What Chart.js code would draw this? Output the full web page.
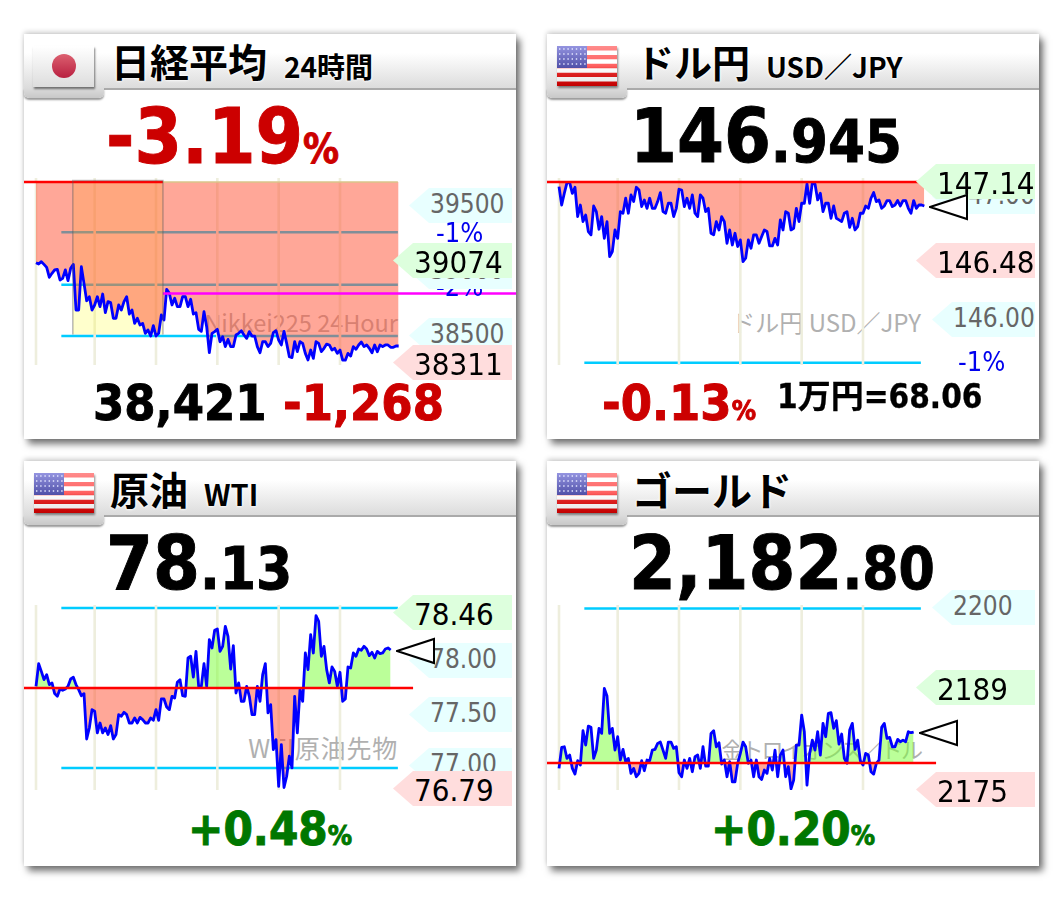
<!DOCTYPE html>
<html lang="ja">
<head>
<meta charset="UTF-8">
<title>日経平均 ドル円 原油 ゴールド</title>
<script src="https://cdn.jsdelivr.net/npm/chart.js@4"></script>
<style>
    html, body { margin: 0; padding: 0; background: #fff; }
    body { position: relative; width: 1053px; height: 901px; overflow: hidden; font-family: "Noto Sans CJK JP", sans-serif; }
    .panel { position: absolute; width: 492px; height: 405px; background: #fff; box-shadow: 4px 5px 7px rgba(0,0,0,.55), 0 -2px 5px rgba(0,0,0,.18); }
    .head { position: absolute; left: 0; top: 0; width: 100%; height: 54px; background: linear-gradient(#fff 35%, #dcdcdc); border-bottom: 2px solid #aaa; box-sizing: content-box; }
    .tab { position: absolute; left: 0; top: 54px; width: 80px; height: 10px; background: linear-gradient(#dcdcdc, #c8c8c8); border-radius: 0 0 5px 5px; box-shadow: 0 2px 2px rgba(0,0,0,.4); }
    .flagbox { position: absolute; left: 9px; top: 12px; width: 61px; height: 41px; background: linear-gradient(#fff, #ddd); box-shadow: 1px 2px 2px rgba(0,0,0,.5); }
    .sun { position: absolute; left: 19px; top: 8px; width: 24px; height: 24px; border-radius: 50%; background: linear-gradient(#dc6070, #b82040); }
    .flag { position: absolute; left: 10px; top: 12px; filter: drop-shadow(1px 2px 1px rgba(0,0,0,.45)); }
    .abs { position: absolute; white-space: nowrap; }
    .title { font-weight: 700; color: #000; text-shadow: 0 0 3px #fff, 0 0 3px #fff; line-height: 1; }
    .big { font-family: "DejaVu Sans Condensed", "Noto Sans CJK JP", sans-serif; font-weight: 700; line-height: 1; -webkit-text-stroke: .9px currentColor; }
    .red { color: #cc0000; }
    .green { color: #007700; }
    canvas { position: absolute; left: 0; }
    .mark { position: absolute; font-family: "Noto Sans CJK JP", sans-serif; font-size: 25px; line-height: 1; color: #b0b0b0; white-space: nowrap; }
    .tag { position: absolute; height: 35px; line-height: 38px; font-family: "DejaVu Sans Condensed", sans-serif; white-space: nowrap; clip-path: polygon(0 50%, 20px 0, 100% 0, 100% 100%, 20px 100%); }
    .tag.g { background: #ddffdd; color: #000; font-size: 31px; left: 369px; width: 119px; padding-left: 21px; box-sizing: border-box; }
    .tag.r { background: #ffdddd; color: #000; font-size: 31px; left: 369px; width: 119px; padding-left: 21px; box-sizing: border-box; }
    .tag.c { background: #e8ffff; color: #666; font-size: 26px; line-height: 32px; left: 385px; width: 103px; padding-left: 21px; box-sizing: border-box; }
    .pct { position: absolute; color: #0000ee; font-family: "DejaVu Sans Condensed", sans-serif; font-size: 27px; line-height: 1; }
    .tri { position: absolute; }
</style>
</head>
<body>

<svg width="0" height="0" style="position:absolute">
    <defs>
        <linearGradient id="stripeRed" x1="0" y1="0" x2="0" y2="1">
            <stop offset="0" stop-color="#ff8c8c"/>
            <stop offset=".5" stop-color="#ff6060"/>
            <stop offset=".65" stop-color="#e82828"/>
            <stop offset="1" stop-color="#d80000"/>
        </linearGradient>
        <linearGradient id="cantonBlue" x1="0" y1="0" x2="0" y2="1">
            <stop offset="0" stop-color="#9494e0"/>
            <stop offset="1" stop-color="#5050a8"/>
        </linearGradient>
        <linearGradient id="shade" x1="0" y1="0" x2="0" y2="1">
            <stop offset=".5" stop-color="#000" stop-opacity="0"/>
            <stop offset="1" stop-color="#000" stop-opacity=".1"/>
        </linearGradient>
        <mask id="redStripes">
            <rect width="60" height="40" fill="#000"/>
            <path d="M0 2.2H60M0 11.1H60M0 20H60M0 28.9H60M0 37.8H60" stroke="#fff" stroke-width="4.44"/>
        </mask>
        <symbol id="usflag" viewBox="0 0 60 40">
            <rect width="60" height="40" fill="#fff"/>
            <rect width="60" height="40" fill="url(#stripeRed)" mask="url(#redStripes)"/>
            <rect width="30" height="22" fill="url(#cantonBlue)"/>
            <path d="M2 3h27M2 8h27M2 13h27M2 18h27" stroke="#e4e6ff" stroke-width="1.4" stroke-dasharray="1.4 2.8"/>
            <rect width="60" height="40" fill="url(#shade)"/>
        </symbol>
    </defs>
</svg>

<!-- 日経平均 -->
<div class="panel" id="p1" style="left:24px;top:34px">
    <div class="head"></div><div class="tab"></div>
    <div class="flagbox"><div class="sun"></div></div>
    <div class="abs title" style="left:87px;top:7px;font-size:39px">日経平均</div>
    <div class="abs title" style="left:260px;top:18px;font-size:28px">24時間</div>
    <div class="abs big red" style="left:82px;top:65px;font-size:76px">-3.19<span style="font-size:40px">%</span></div>
    <div class="mark" style="right:118px;top:277px;font-size:23.5px">Nikkei225 24Hour</div>
    <canvas id="chartNikkei" style="top:144px"></canvas>
    <div class="tag c" style="top:154px">39500</div>
    <div class="pct" style="left:412px;top:185px">-1%</div>
    <div class="pct" style="left:412px;top:239px">-2%</div>
    <div class="tag c" style="top:220px">39000</div>
    <div class="tag g" style="top:209px">39074</div>
    <div class="tag c" style="top:284px">38500</div>
    <div class="tag r" style="top:311px">38311</div>
    <div class="abs big" style="left:69px;top:344px;font-size:50px">38,421</div>
    <div class="abs big red" style="left:259px;top:344px;font-size:50px">-1,268</div>
</div>

<!-- ドル円 -->
<div class="panel" id="p2" style="left:547px;top:34px">
    <div class="head"></div><div class="tab"></div>
    <svg class="flag" width="60" height="40"><use href="#usflag"/></svg>
    <div class="abs title" style="left:89px;top:8px;font-size:38px">ドル円</div>
    <div class="abs title" style="left:219px;top:18px;font-size:28px">USD／JPY</div>
    <div class="abs big" style="left:83px;top:65px;font-size:75px">146<span style="font-size:59px">.945</span></div>
    <div class="mark" style="right:118px;top:276px;font-size:24px">ドル円 USD／JPY</div>
    <canvas id="chartUsdJpy" style="top:144px"></canvas>
    <div class="tag c" style="top:145px">147.00</div>
    <div class="tag g" style="top:130px">147.14</div>
    <div class="tag r" style="top:209px">146.48</div>
    <div class="tag c" style="top:268px">146.00</div>
    <div class="pct" style="left:411px;top:314px">-1%</div>
    <div class="abs big red" style="left:55px;top:344px;font-size:50px">-0.13<span style="font-size:27px">%</span></div>
    <div class="abs big" style="left:230px;top:346px;font-size:33px;-webkit-text-stroke:.3px currentColor">1万円=68.06</div>
</div>

<!-- 原油 -->
<div class="panel" id="p3" style="left:24px;top:461px">
    <div class="head"></div><div class="tab"></div>
    <svg class="flag" width="60" height="40"><use href="#usflag"/></svg>
    <div class="abs title" style="left:86px;top:8px;font-size:39px">原油</div>
    <div class="abs title" style="left:180px;top:18px;font-size:29px">WTI</div>
    <div class="abs big" style="left:82px;top:65px;font-size:75px">78<span style="font-size:58px">.13</span></div>
    <div class="mark" style="right:118px;top:274px;letter-spacing:.8px">WTI原油先物</div>
    <canvas id="chartWti" style="top:144px"></canvas>
    <div class="tag g" style="top:134px">78.46</div>
    <div class="tag c" style="top:182px">78.00</div>
    <div class="tag c" style="top:236px">77.50</div>
    <div class="tag c" style="top:287px">77.00</div>
    <div class="tag r" style="top:310px">76.79</div>
    <div class="abs big green" style="left:164px;top:344px;font-size:47px">+0.48<span style="font-size:27px">%</span></div>
</div>

<!-- ゴールド -->
<div class="panel" id="p4" style="left:547px;top:461px">
    <div class="head"></div><div class="tab"></div>
    <svg class="flag" width="60" height="40"><use href="#usflag"/></svg>
    <div class="abs title" style="left:85px;top:8px;font-size:40px">ゴールド</div>
    <div class="abs big" style="left:82px;top:65px;font-size:75px">2,182<span style="font-size:58px">.80</span></div>
    <div class="mark" style="right:118px;top:276px;font-size:22px;letter-spacing:-2px">金トロイオンス／ドル</div>
    <canvas id="chartGold" style="top:144px"></canvas>
    <div class="tag c" style="top:129px">2200</div>
    <div class="tag g" style="top:209px">2189</div>
    <div class="tag r" style="top:311px">2175</div>
    <div class="abs big green" style="left:164px;top:344px;font-size:47px">+0.20<span style="font-size:27px">%</span></div>
</div>

<script>
// series, one value per step
const nikkeiValues = [39065,39055,39073,39052,39029,38952,38983,39009,39014,38931,38944,39009,38926,39021,39052,38699,38699,39034,38905,38771,38802,38699,38738,38802,38725,38823,38679,38764,38756,38635,38635,38738,38699,38764,38802,38668,38699,38596,38635,38583,38596,38519,38545,38498,38578,38498,38519,38661,38622,38859,38828,38738,38790,38725,38725,38802,38802,38725,38782,38668,38679,38550,38534,38686,38570,38369,38519,38532,38550,38454,38493,38416,38472,38416,38416,38506,38519,38539,38506,38480,38532,38498,38498,38416,38369,38454,38454,38416,38441,38524,38539,38467,38429,38534,38441,38338,38331,38454,38377,38454,38441,38364,38313,38390,38325,38454,38441,38377,38403,38436,38429,38390,38403,38364,38390,38311,38311,38364,38343,38416,38395,38429,38452,38416,38429,38403,38369,38429,38377,38429,38416,38429,38429,38411,38411,38421,38421];
const usdJpyValues = [147.102,146.953,147.048,147.135,147.135,147.048,147.097,146.859,146.953,146.818,146.872,146.737,146.710,146.945,146.899,146.756,146.859,146.682,146.818,146.533,146.574,146.750,146.682,146.899,146.886,147.008,146.886,147.035,146.981,147.097,147.075,146.940,146.994,146.926,147.008,146.926,146.926,146.981,147.054,146.899,146.886,146.967,146.967,146.859,146.926,147.081,147.075,146.940,147.008,146.926,147.035,146.886,146.859,147.035,147.008,146.899,146.926,146.723,146.710,146.818,146.750,146.859,146.818,146.642,146.750,146.628,146.723,146.615,146.669,146.493,146.520,146.669,146.601,146.710,146.710,146.642,146.696,146.750,146.737,146.620,146.620,146.682,146.628,146.832,146.750,146.899,146.886,146.750,146.764,146.926,146.818,146.967,146.967,147.124,146.967,147.135,147.124,146.994,147.048,146.899,146.967,146.967,146.845,146.945,146.845,146.832,146.818,146.886,146.899,146.772,146.845,146.750,146.777,146.886,146.886,146.945,146.926,147.008,147.054,146.981,146.994,146.926,146.945,146.989,146.989,146.940,146.953,146.989,146.945,146.989,146.989,146.926,146.886,146.989,146.926,146.953,146.953,146.945];
const wtiValues = [77.776,77.997,77.922,77.841,77.890,77.793,77.809,77.705,77.679,77.750,77.737,77.750,77.776,77.848,77.864,77.793,77.744,77.685,77.705,77.263,77.370,77.549,77.533,77.322,77.419,77.322,77.370,77.306,77.393,77.263,77.306,77.500,77.484,77.523,77.500,77.419,77.419,77.468,77.419,77.474,77.452,77.419,77.419,77.468,77.445,77.549,77.445,77.653,77.653,77.575,77.549,77.679,77.663,77.815,77.841,77.685,77.679,78.052,78.069,77.867,78.117,77.776,77.776,77.997,77.776,78.231,78.150,78.322,78.335,78.117,78.166,78.361,78.263,77.945,78.172,77.711,77.809,77.630,77.630,77.776,77.679,77.500,77.500,77.776,77.630,77.890,77.997,77.517,77.598,77.159,77.257,76.802,77.208,76.790,76.900,77.095,76.981,77.679,77.322,77.744,77.630,78.101,77.939,78.280,78.101,78.464,78.410,78.069,78.166,77.939,77.809,77.965,77.922,77.776,77.913,77.630,77.653,77.965,77.955,78.101,78.069,78.140,78.127,78.166,78.140,78.075,78.108,78.052,78.117,78.095,78.101,78.140,78.150,78.130];
const goldValues = [2177.68,2180.64,2180.73,2179.09,2179.56,2177.68,2176.88,2178.76,2178.15,2182.99,2180.97,2183.64,2183.46,2179.09,2180.26,2183.32,2182.61,2188.95,2187.87,2182.61,2183.32,2180.26,2182.14,2178.86,2180.36,2178.62,2179.09,2176.98,2177.68,2176.51,2176.98,2178.76,2177.35,2178.86,2178.76,2180.26,2180.36,2181.20,2181.39,2180.26,2179.09,2181.39,2181.39,2180.50,2180.73,2177.07,2176.51,2178.86,2177.68,2179.09,2177.21,2179.33,2179.56,2177.68,2180.73,2178.01,2178.01,2182.61,2182.99,2180.73,2181.30,2178.29,2178.86,2176.51,2178.62,2175.80,2175.80,2178.39,2179.79,2181.39,2180.73,2178.39,2178.86,2176.51,2178.86,2176.51,2176.13,2177.45,2176.98,2179.09,2177.45,2180.26,2176.51,2179.56,2180.26,2176.51,2177.92,2174.80,2176.04,2180.97,2180.97,2185.19,2182.85,2175.33,2179.79,2181.67,2180.26,2182.85,2179.56,2184.02,2182.14,2185.43,2185.52,2183.32,2184.40,2181.11,2182.52,2179.09,2178.39,2183.08,2184.02,2180.36,2181.67,2178.76,2178.15,2179.79,2179.56,2177.21,2176.88,2178.39,2178.86,2183.46,2184.02,2181.91,2182.05,2180.73,2180.73,2181.77,2181.44,2181.67,2181.44,2182.85,2182.71,2182.80];

// previous closes and percent lines
const nikkeiClose = 39689;
const nikkeiLevels = [39300, 38895, 38498];
const nikkeiNow = 38827;   // magenta line
const usdJpyClose = 147.14;
const usdJpyLevels = [145.67];
const wtiClose = 77.76;
const wtiLevels = [78.54, 76.98];
const goldClose = 2178.44;
const goldLevels = [2200.2];

// vertical rules, as step numbers
const timeTicks = [0, 22, 45, 68, 91, 114];

// shaded session on the Nikkei chart, as step numbers
const sessionStart = 13.8;
const sessionEnd = 47.6;
const lastStep = 135.7;

const XMIN = -4.5, XMAX = 180;
const CYAN = '#00ccff', RULE = '#eeeedd', BLUE = '#0000ff', RED = '#ff0000';
const UP = 'rgba(119,255,51,.5)', DOWN = 'rgba(255,80,50,.5)';

function hline(y, from, to, color, order, width) {
    return { data: [{x: from, y: y}, {x: to, y: y}], borderColor: color, borderWidth: width || 2.6, order: order, clip: false, fill: false };
}

function makeChart(id, h, yMin, yMax, series, close, levels, redEnd, extra) {
    const sets = [];
    timeTicks.forEach(t => sets.push({ data: [{x: t, y: yMin}, {x: t, y: yMax}], borderColor: RULE, borderWidth: 2.6, order: 6, fill: false }));
    levels.forEach(v => sets.push(hline(v, 9.5, lastStep, CYAN, 7)));
    sets.push({
        data: series.map((v, i) => ({x: i, y: v})),
        borderColor: BLUE, borderWidth: 2.8, order: 2, clip: false,
        borderJoinStyle: 'round',
        fill: { target: { value: close }, above: UP, below: DOWN }
    });
    sets.push(hline(close, XMIN, redEnd, RED, 1));
    (extra || []).forEach(s => sets.push(s));

    const canvas = document.getElementById(id);
    canvas.width = 492;
    canvas.height = h;
    canvas.style.width = '492px';
    canvas.style.height = h + 'px';
    return new Chart(canvas, {
        type: 'line',
        data: { datasets: sets },
        options: {
            responsive: false,
            animation: false,
            layout: { padding: 0 },
            elements: { point: { radius: 0 }, line: { tension: 0 } },
            plugins: { legend: { display: false }, tooltip: { enabled: false } },
            scales: {
                x: { type: 'linear', min: XMIN, max: XMAX, display: false },
                y: { type: 'linear', min: yMin, max: yMax, display: false }
            }
        }
    });
}

// little open triangle just right of the last point
function lastMarker(chart, panelId, series) {
    const canvas = chart.canvas;
    const px = chart.scales.x.getPixelForValue(series.length - 1) + canvas.offsetLeft + 6;
    const py = chart.scales.y.getPixelForValue(series[series.length - 1]) + canvas.offsetTop + 1;
    const ns = 'http://www.w3.org/2000/svg';
    const svg = document.createElementNS(ns, 'svg');
    svg.setAttribute('class', 'tri');
    svg.setAttribute('width', '40');
    svg.setAttribute('height', '28');
    svg.style.left = (px - 1) + 'px';
    svg.style.top = (py - 14) + 'px';
    const tri = document.createElementNS(ns, 'polygon');
    tri.setAttribute('points', '1,14 38,2 38,26');
    tri.setAttribute('fill', '#fff');
    tri.setAttribute('stroke', '#000');
    tri.setAttribute('stroke-width', '2');
    svg.appendChild(tri);
    document.getElementById(panelId).appendChild(svg);
}

// Nikkei has the yellow session box and the magenta line on top of the usual set
const nikkeiExtra = [
    { data: [{x: sessionStart, y: nikkeiClose}, {x: sessionEnd, y: nikkeiClose}], borderWidth: 0, order: 5,
      fill: { target: { value: 38510 }, above: 'rgba(255,255,0,.2)' } },
    { data: [{x: sessionStart, y: 38510}, {x: sessionStart, y: nikkeiClose + 12}, {x: sessionEnd, y: nikkeiClose + 12}, {x: sessionEnd, y: 38510}],
      borderColor: 'rgba(90,90,90,.4)', borderWidth: 1.6, order: 0, fill: false },
    hline(nikkeiClose, sessionEnd, lastStep, '#d8c48a', 1, 1.5),
    hline(nikkeiNow, sessionEnd, XMAX, '#ff00ff', 0, 2.4)
];

makeChart('chartNikkei', 187, 38274, 39720, nikkeiValues, nikkeiClose, nikkeiLevels, sessionEnd, nikkeiExtra);
const usdJpyChart = makeChart('chartUsdJpy', 187, 145.652, 147.1725, usdJpyValues, usdJpyClose, usdJpyLevels, 141.4);
const wtiChart = makeChart('chartWti', 185, 76.766, 78.5685, wtiValues, wtiClose, wtiLevels, 141.4);
const goldChart = makeChart('chartGold', 185, 2174.64, 2200.69, goldValues, goldClose, goldLevels, 141.4);

lastMarker(usdJpyChart, 'p2', usdJpyValues);
lastMarker(wtiChart, 'p3', wtiValues);
lastMarker(goldChart, 'p4', goldValues);
</script>
</body>
</html>
